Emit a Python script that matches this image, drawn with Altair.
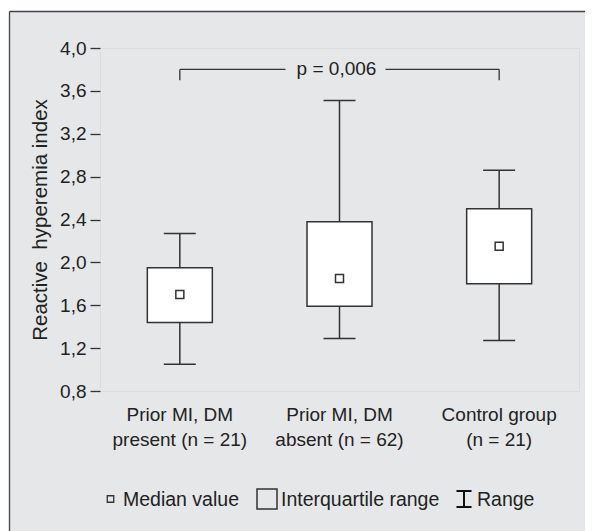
import altair as alt
import pandas as pd

# ---- data ----
groups = ["Prior MI, DM|present (n = 21)", "Prior MI, DM|absent (n = 62)", "Control group|(n = 21)"]
range_min = [1.05, 1.29, 1.27]
q1 = [1.44, 1.59, 1.80]
median = [1.70, 1.85, 2.15]
q3 = [1.95, 2.38, 2.50]
range_max = [2.27, 3.51, 2.86]
y_ticks = [0.8, 1.2, 1.6, 2.0, 2.4, 2.8, 3.2, 3.6, 4.0]
bracket_top = 3.8
bracket_drop = 3.7
p_label = "p = 0,006"
legend_labels = ["Median value", "Interquartile range", "Range"]
y_title = "Reactive\u00a0\u00a0hyperemia index"

LINE = "#333333"
TEXT = "#222222"
BG = "#e6e7e9"
FONT = "Liberation Sans"

df = pd.DataFrame({"group": groups, "min": range_min, "q1": q1,
                   "median": median, "q3": q3, "max": range_max})

x_scale = alt.Scale(domain=groups, paddingInner=0, paddingOuter=0)
x_axis = alt.Axis(domain=False, ticks=False, labelAngle=0, labelPadding=14,
                  labelFontSize=19, labelLineHeight=25, labelColor=TEXT,
                  labelExpr="split(datum.label, '|')", labelFont=FONT)
y_scale = alt.Scale(domain=[0.8, 4.0], nice=False, zero=False)
y_axis = alt.Axis(values=y_ticks, domain=False, grid=False, tickColor=LINE,
                  tickSize=10, tickWidth=1.3, labelFontSize=19, labelColor=TEXT,
                  labelPadding=4, labelFont=FONT,
                  labelExpr="replace(format(datum.value, '.1f'), '.', ',')",
                  title=y_title, titleFontSize=20.5, titleFontWeight="normal",
                  titleColor=TEXT, titlePadding=9, titleFont=FONT)


def X(field):
    return alt.X(f"{field}:N", scale=x_scale, axis=x_axis, title=None)


def Y(field):
    return alt.Y(f"{field}:Q", scale=y_scale, axis=y_axis)


base = alt.Chart(df)
whisk_low = base.mark_rule(color=LINE, strokeWidth=1.5).encode(x=X("group"), y=Y("min"), y2="q1:Q")
whisk_high = base.mark_rule(color=LINE, strokeWidth=1.5).encode(x=X("group"), y=Y("q3"), y2="max:Q")
box = base.mark_bar(size=65, fill="white", stroke=LINE, strokeWidth=1.5).encode(
    x=X("group"), y=Y("q1"), y2="q3:Q")
cap_low = base.mark_tick(size=32, thickness=1.5, color=LINE, opacity=1).encode(x=X("group"), y=Y("min"))
cap_high = base.mark_tick(size=32, thickness=1.5, color=LINE, opacity=1).encode(x=X("group"), y=Y("max"))
med = base.mark_point(shape="square", size=64, filled=False, color=LINE,
                      strokeWidth=1.5, opacity=1).encode(x=X("group"), y=Y("median"))

# ---- p-value bracket ----
br_h = pd.DataFrame({"a": [groups[0], groups[1]], "b": [groups[1], groups[2]],
                     "y": [bracket_top, bracket_top]})
seg_left = alt.Chart(br_h.iloc[[0]]).mark_rule(color=LINE, strokeWidth=1.3, x2Offset=-54).encode(
    x=X("a"), x2="b:N", y=Y("y"))
seg_right = alt.Chart(br_h.iloc[[1]]).mark_rule(color=LINE, strokeWidth=1.3, xOffset=46).encode(
    x=X("a"), x2="b:N", y=Y("y"))
br_v = pd.DataFrame({"g": [groups[0], groups[2]], "y": [bracket_top] * 2, "y2": [bracket_drop] * 2})
drops = alt.Chart(br_v).mark_rule(color=LINE, strokeWidth=1.3).encode(x=X("g"), y=Y("y"), y2="y2:Q")
p_df = pd.DataFrame({"g": [groups[1]], "y": [bracket_top], "t": [p_label]})
p_text = alt.Chart(p_df).mark_text(fontSize=19, color=TEXT, baseline="middle", dx=-3, font=FONT).encode(
    x=X("g"), y=Y("y"), text="t:N")

# ---- legend (drawn below the plot) ----
leg = pd.DataFrame({"label": legend_labels})
one = pd.DataFrame({"k": [0]})
leg_med = alt.Chart(one).mark_point(shape="square", size=42, filled=False, color=LINE,
                                    strokeWidth=1.3, opacity=1).encode(x=alt.value(10.5), y=alt.value(451))
leg_box = alt.Chart(one).mark_point(shape="square", size=400, filled=False, color=LINE,
                                    strokeWidth=1.5, opacity=1).encode(x=alt.value(167), y=alt.value(451))
leg_rng = alt.Chart(one).mark_point(shape="M-0.94,-1H0.94M0,-1V1M-0.94,1H0.94", size=256, filled=False,
                                    color="#111", strokeWidth=2, opacity=1).encode(x=alt.value(364), y=alt.value(451))
leg_t = [
    alt.Chart(leg.iloc[[i]]).mark_text(align="left", baseline="middle", fontSize=19.5, color=TEXT, font=FONT)
    .encode(x=alt.value(xv), y=alt.value(452), text="label:N")
    for i, xv in enumerate([23, 181, 377])
]

# ---- outer frame ----
frame_top_white = alt.Chart(one).mark_rect(color="white").encode(
    x=alt.value(-100), x2=alt.value(700), y=alt.value(-60), y2=alt.value(-36.5))
frame_left_white = alt.Chart(one).mark_rect(color="white").encode(
    x=alt.value(-100), x2=alt.value(-90.5), y=alt.value(-60), y2=alt.value(700))
frame_top = alt.Chart(one).mark_rule(color="#444", strokeWidth=1.3).encode(
    x=alt.value(-90.5), x2=alt.value(700), y=alt.value(-36.5))
frame_left = alt.Chart(one).mark_rule(color="#444", strokeWidth=1.3).encode(
    x=alt.value(-90.5), y=alt.value(-36.5), y2=alt.value(700))

chart = alt.layer(
    whisk_low, whisk_high, box, cap_low, cap_high, med,
    seg_left, seg_right, drops, p_text,
    leg_med, leg_box, leg_rng, *leg_t,
    frame_top_white, frame_left_white, frame_top, frame_left,
).properties(
    width=479, height=343,
    autosize=alt.AutoSizeParams(type="none"),
    padding={"left": 92, "top": 40, "right": 6, "bottom": 140},
    background=BG,
).configure_view(
    stroke=LINE, strokeWidth=1.5, fill="white"
).configure(font=FONT)

chart.save("out.html", embed_options={"renderer": "svg", "actions": False})
